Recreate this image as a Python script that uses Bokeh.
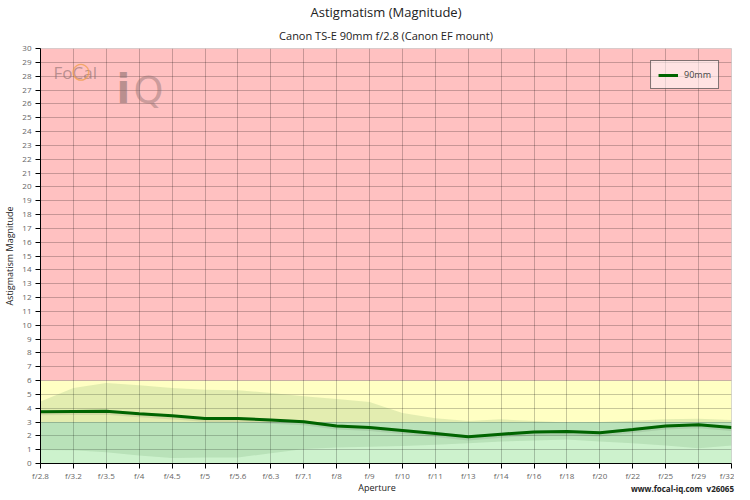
from bokeh.plotting import figure
from bokeh.layouts import column
from bokeh.models import Range1d, FixedTicker, Title, Label, Div
from bokeh.embed import file_html
from bokeh.resources import INLINE

# ---- data ----
apertures = ["f/2.8", "f/3.2", "f/3.5", "f/4", "f/4.5", "f/5", "f/5.6", "f/6.3", "f/7.1",
             "f/8", "f/9", "f/10", "f/11", "f/13", "f/14", "f/16", "f/18", "f/20",
             "f/22", "f/25", "f/29", "f/32"]
astig_90mm = [3.74, 3.76, 3.78, 3.60, 3.45, 3.26, 3.26, 3.14, 3.02, 2.71, 2.61, 2.39,
              2.17, 1.93, 2.12, 2.28, 2.32, 2.22, 2.46, 2.71, 2.80, 2.61]
band_upper = [4.49, 5.46, 5.82, 5.65, 5.46, 5.34, 5.29, 5.10, 4.86, 4.66, 4.45, 3.65,
              3.28, 3.07, 3.19, 3.07, 2.97, 3.00, 3.09, 3.19, 3.24, 3.14]
band_lower = [0.97, 0.95, 0.82, 0.58, 0.39, 0.43, 0.43, 0.75, 1.04, 1.16, 1.21, 1.26,
              1.35, 1.47, 1.59, 1.67, 1.74, 1.59, 1.47, 1.30, 1.11, 1.30]
zone_bottoms = [0, 3, 6]
zone_tops = [3, 6, 30]
zone_colors = ["#cdf2cd", "#ffffc3", "#ffc1c1"]
y_ticks = list(range(0, 31))

FONT = "Open Sans"
W = 734
MAIN_H = 483
x_idx = list(range(len(apertures)))

p = figure(width=W, height=MAIN_H, output_backend="svg", toolbar_location=None,
           x_range=Range1d(0, len(apertures) - 1), y_range=Range1d(0, 30),
           min_border_left=31, min_border_right=3, min_border_top=0, min_border_bottom=20)
p.title.visible = False
p.background_fill_color = "white"
p.border_fill_color = "white"
p.outline_line_color = "#cccccc"

# quality zones
n = len(zone_bottoms)
zones = p.quad(left=[x_idx[0]] * n, right=[x_idx[-1]] * n, bottom=zone_bottoms, top=zone_tops,
               fill_color=zone_colors, line_color=None)
zones.level = "image"

# spread band
p.varea(x=x_idx, y1=band_lower, y2=band_upper, fill_color="#509150", fill_alpha=0.16)

# main line (soft shadow + line)
p.line(x_idx, [v - 0.08 for v in astig_90mm], line_color="black", line_alpha=0.08, line_width=5)
p.line(x_idx, astig_90mm, line_color="#006400", line_width=3, legend_label="90mm")

# axes
p.xaxis.ticker = FixedTicker(ticks=x_idx)
p.xaxis.major_label_overrides = {i: a for i, a in enumerate(apertures)}
p.yaxis.ticker = FixedTicker(ticks=y_ticks)
for ax in (p.xaxis[0], p.yaxis[0]):
    ax.axis_line_color = "black"
    ax.major_tick_line_color = "black"
    ax.major_tick_out = 5
    ax.major_tick_in = 0
    ax.minor_tick_line_color = None
    ax.major_label_text_font = FONT
    ax.major_label_text_font_size = "8px"
    ax.major_label_text_color = "#666666"
    ax.axis_label_text_font = FONT
    ax.axis_label_text_font_size = "9px"
    ax.axis_label_text_font_style = "normal"
    ax.axis_label_text_color = "#222222"
p.xaxis.major_label_standoff = 1
p.yaxis.major_label_standoff = 4
p.yaxis.axis_label_standoff = 3
p.yaxis.axis_label = "Astigmatism Magnitude"

# grid
p.xgrid.grid_line_color = "black"
p.xgrid.grid_line_alpha = 0.22
p.ygrid.grid_line_color = "black"
p.ygrid.grid_line_alpha = 0.22

# legend
lg = p.legend[0]
lg.location = "top_right"
lg.margin = 12
lg.border_line_color = "black"
lg.border_line_width = 1
lg.background_fill_color = "white"
lg.background_fill_alpha = 0.55
lg.label_text_font = FONT
lg.label_text_font_size = "9px"
lg.glyph_width = 20
lg.glyph_height = 10
lg.label_standoff = 6
lg.padding = 7
lg.spacing = 0

# titles
p.add_layout(Title(text="Canon TS-E 90mm f/2.8 (Canon EF mount)", align="center",
                   text_font=FONT, text_font_size="11px", text_font_style="normal",
                   text_color="#222222", standoff=11), "above")
p.add_layout(Title(text="Astigmatism (Magnitude)", align="center",
                   text_font=FONT, text_font_size="13px", text_font_style="normal",
                   text_color="#222222", standoff=0), "above")

# watermark logo
p.add_layout(Label(x=13, y=391, x_units="screen", y_units="screen", text="FoCal",
                   text_font=FONT, text_font_size="17px", text_color="#8c6e6e",
                   text_alpha=0.6, text_baseline="middle"))
p.add_layout(Label(x=31, y=393, x_units="screen", y_units="screen", text="\u25cb",
                   text_font="DejaVu Sans", text_font_size="22px", text_color="#f0a050",
                   text_alpha=0.8, text_baseline="middle"))
p.add_layout(Label(x=76, y=375, x_units="screen", y_units="screen", text="i",
                   text_font="DejaVu Sans", text_font_size="40px", text_font_style="bold",
                   text_color="#8c6e6e", text_alpha=0.6, text_baseline="middle"))
p.add_layout(Label(x=93, y=374, x_units="screen", y_units="screen", text="Q",
                   text_font="DejaVu Sans", text_font_size="38px",
                   text_color="#8c6e6e", text_alpha=0.45, text_baseline="middle"))

# bottom row: x-axis title and site/version text, overlapping the figure's bottom border
x_title = "Aperture"
footer = "www.focal-iq.com&nbsp;&nbsp;v26065"
ROW_H = 24
row_html = (
    '<div style="position:relative;width:%dpx;height:%dpx;font-family:\'Open Sans\';color:#222222;">'
    '<span style="position:absolute;left:377px;top:22px;transform:translateX(-50%%);'
    'font-size:9px;line-height:12px;white-space:nowrap;">%s</span>'
    '<span style="position:absolute;right:0px;top:23px;font-size:8px;font-weight:bold;'
    'line-height:11px;white-space:nowrap;">%s</span>'
    '</div>' % (W, ROW_H, x_title, footer)
)
d = Div(text=row_html, width=W, height=ROW_H, margin=(-(ROW_H - 1), 0, 0, 0))

layout = column(p, d, spacing=0)
open("out.html", "w").write(file_html(layout, INLINE))
